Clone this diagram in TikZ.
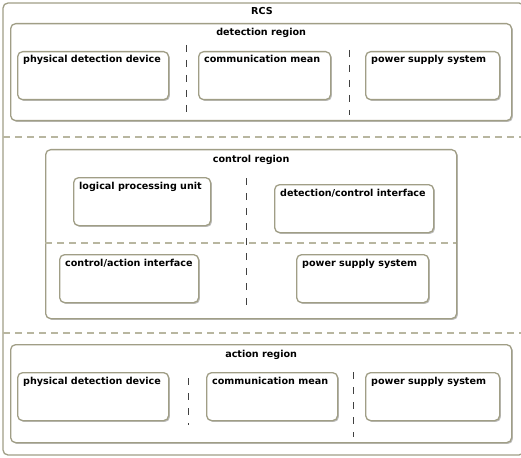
\documentclass[tikz,border=0pt]{standalone}
\usepackage{fontspec}
\newfontfamily\dgfont{DejaVu Sans}
\usepackage{tikz}
\usetikzlibrary{shadows}
\definecolor{rcsline}{HTML}{A09E86}
\definecolor{sepline}{HTML}{B8B6A0}
\tikzset{
  region/.style={draw=rcsline, line width=1.3pt, rounded corners=5pt, fill=white,
    drop shadow={shadow xshift=1.3pt, shadow yshift=-1.3pt, fill=black!45, opacity=0.55}},
  part/.style={region, anchor=north west, inner sep=0pt},
  partlabel/.style={anchor=base west, inner sep=0pt, font=\dgfont\fontsize{9.6}{11}\selectfont\bfseries},
  title/.style={anchor=base, inner sep=0pt, font=\dgfont\fontsize{9.6}{11}\selectfont\bfseries},
  sepdash/.style={draw=sepline, line width=1.1pt, dash pattern=on 7pt off 5pt},
  cutdash/.style={draw=black!75, line width=0.7pt, dash pattern=on 7pt off 8pt}
}
\begin{document}
\begin{tikzpicture}[x=1pt, y=-1pt]
  \useasboundingbox (0,0) rectangle (521,457);
  \clip (0,0) rectangle (521,457);

  % RCS
  \draw[draw=rcsline, line width=1.3pt, rounded corners=5pt, fill=white] (3,3) rectangle (524,455);
  \node[title] (rcs) at (262,15) {RCS};
  \coordinate (sepA) at (3,137);   \coordinate (sepA') at (521,137);
  \coordinate (sepB) at (3,333);   \coordinate (sepB') at (521,333);
  \draw[sepdash] (sepA) -- (sepA');
  \draw[sepdash] (sepB) -- (sepB');

  % detection region
  \node[part, minimum width=501pt, minimum height=97pt] (detreg) at (10,23) {};
  \node[title] (dettitle) at ([yshift=-13pt]detreg.north) {detection region};
  \node[part, minimum width=151pt, minimum height=48pt] (detpdd) at (17,51) {};
  \node[part, minimum width=132pt, minimum height=48pt] (detcm) at (198,51) {};
  \node[part, minimum width=134pt, minimum height=48pt] (detpss) at (365,51) {};
  \node[partlabel] (detpddl) at ([xshift=6pt,yshift=-12pt]detpdd.north west) {physical detection device};
  \node[partlabel] (detcml) at ([xshift=6pt,yshift=-12pt]detcm.north west) {communication mean};
  \node[partlabel] (detpssl) at ([xshift=6pt,yshift=-12pt]detpss.north west) {power supply system};
  \coordinate (detcutA) at (186,45);  \coordinate (detcutA') at (186,115);
  \coordinate (detcutB) at (349,50);  \coordinate (detcutB') at (349,115);
  \draw[cutdash] (detcutA) -- (detcutA');
  \draw[cutdash] (detcutB) -- (detcutB');

  % control region
  \node[part, minimum width=411pt, minimum height=169pt] (ctlreg) at (45,149) {};
  \node[title] (ctltitle) at ([yshift=-13pt]ctlreg.north) {control region};
  \coordinate (ctlsep) at (45,243);  \coordinate (ctlsep') at (456,243);
  \draw[sepdash] (ctlsep) -- (ctlsep');
  \coordinate (ctlcut) at (246,178); \coordinate (ctlcut') at (246,312);
  \draw[cutdash] (ctlcut) -- (ctlcut');
  \node[part, minimum width=137pt, minimum height=48pt] (ctllpu) at (73,177) {};
  \node[part, minimum width=159pt, minimum height=48pt] (ctldci) at (274,184) {};
  \node[part, minimum width=139pt, minimum height=48pt] (ctlcai) at (59,254) {};
  \node[part, minimum width=132pt, minimum height=48pt] (ctlpss) at (296,254) {};
  \node[partlabel] (ctllpul) at ([xshift=6pt,yshift=-12pt]ctllpu.north west) {logical processing unit};
  \node[partlabel] (ctldcil) at ([xshift=6pt,yshift=-12pt]ctldci.north west) {detection/control interface};
  \node[partlabel] (ctlcail) at ([xshift=6pt,yshift=-12pt]ctlcai.north west) {control/action interface};
  \node[partlabel] (ctlpssl) at ([xshift=6pt,yshift=-12pt]ctlpss.north west) {power supply system};

  % action region
  \node[part, minimum width=501pt, minimum height=98pt] (actreg) at (10,344) {};
  \node[title] (acttitle) at ([yshift=-13pt]actreg.north) {action region};
  \node[part, minimum width=151pt, minimum height=48pt] (actpdd) at (17,372) {};
  \node[part, minimum width=131pt, minimum height=48pt] (actcm) at (206,372) {};
  \node[part, minimum width=134pt, minimum height=48pt] (actpss) at (365,372) {};
  \node[partlabel] (actpddl) at ([xshift=6pt,yshift=-12pt]actpdd.north west) {physical detection device};
  \node[partlabel] (actcml) at ([xshift=6pt,yshift=-12pt]actcm.north west) {communication mean};
  \node[partlabel] (actpssl) at ([xshift=6pt,yshift=-12pt]actpss.north west) {power supply system};
  \coordinate (actcutA) at (188,378);  \coordinate (actcutA') at (188,425);
  \coordinate (actcutB) at (353,372);  \coordinate (actcutB') at (353,437);
  \draw[cutdash] (actcutA) -- (actcutA');
  \draw[cutdash] (actcutB) -- (actcutB');
\end{tikzpicture}
\end{document}
